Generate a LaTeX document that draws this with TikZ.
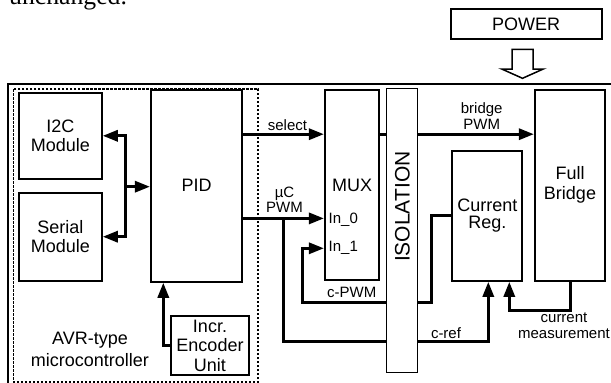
\documentclass[tikz,border=0pt]{standalone}
\usepackage{fontspec}
\setmainfont{Liberation Sans}
\newfontfamily\serifpaper{Liberation Serif}
\usetikzlibrary{arrows.meta}
\tikzset{
  blk/.style={draw, line width=2.2pt, inner sep=0pt, align=center,
    font=\fontsize{18}{19.5}\selectfont},
  conn/.style={line width=3pt},
  tip/.style={-{Triangle[length=15pt,width=11pt]}},
  lbl/.style={inner sep=0pt, align=center, font=\fontsize{15}{16}\selectfont},
}
\begin{document}
\begin{tikzpicture}[x=1pt,y=-1pt]
\useasboundingbox (0,0) rectangle (611,383);
% paper text fragment
\node[anchor=base west, inner sep=0pt, font=\serifpaper\fontsize{25.7}{28}\selectfont] (para) at (9,4) {unchanged.};
% outer frame
\draw[line width=2pt] (7.5,83.5) rectangle (640,420);
% microcontroller dotted region
\draw[line width=1.8pt, dash pattern=on 2.5pt off 1.5pt] (13.5,89) rectangle (258.3,381.7);
\node[lbl, font=\fontsize{18}{22}\selectfont] (avr) at (90,349) {AVR-type\\microcontroller};
% blocks
\node[blk, minimum width=82.7pt, minimum height=86.3pt] (i2c) at (60.3,135.8) {I2C\\Module};
\node[blk, minimum width=82.7pt, minimum height=88pt] (ser) at (60.3,236.7) {Serial\\Module};
\node[blk, minimum width=91.3pt, minimum height=191.7pt] (pid) at (196.7,185.8) {PID};
\node[blk, minimum width=78pt, minimum height=59pt] (enc) at (210,345.5) {Incr.\\Encoder\\Unit};
\node[blk, minimum width=54.3pt, minimum height=190pt] (mux) at (352.2,185) {MUX};
\node[lbl, anchor=west] (in0) at (328.5,219.3) {In\_0};
\node[lbl, anchor=west] (in1) at (328.5,248.3) {In\_1};
\node[blk, minimum width=70pt, minimum height=130pt, font=\fontsize{18}{17.5}\selectfont] (cr) at (487.3,215.7) {Current\\Reg.};
\node[blk, minimum width=70pt, minimum height=190.7pt, font=\fontsize{18}{20}\selectfont] (fb) at (570,185.3) {Full\\Bridge};
\node[blk, minimum width=151pt, minimum height=30pt] (pow) at (526.2,24.3) {POWER};
% coordinates
\coordinate (bus) at (125,186.7);
\coordinate (encx) at (163.3,345.5);
\coordinate (selY) at (0,134.2);
\coordinate (pwmY) at (0,218.4);
\coordinate (br) at (283.5,218.4);
\coordinate (crefx) at (488.3,341.7);
\coordinate (cp1) at (431.7,302.7);
\coordinate (cp2) at (302.7,248.3);
\coordinate (cm) at (509.3,310);
% connectors
\draw[conn, {Triangle[length=15pt,width=11pt]}-{Triangle[length=15pt,width=11pt]}] (i2c.east) -| (bus) |- (ser.east);
\draw[conn, tip] (bus) -- (bus -| pid.west);
\draw[conn, tip] (enc.west) -- (encx) -- (encx |- pid.south);
\draw[conn, tip] (pid.east |- selY) -- (mux.west |- selY);
\draw[conn, tip] (mux.east |- selY) -- (fb.west |- selY);
\draw[conn, tip] (pid.east |- pwmY) -- (mux.west |- pwmY);
\draw[conn, tip] (br) |- (crefx) -- (crefx |- cr.south);
\draw[conn, tip] (cr.west) -| (cp1) -| (cp2) -- (cp2 -| mux.west);
\draw[conn, tip] (fb.south) |- (cm) -- (cm |- cr.south);
% labels
\node[lbl] (lsel) at (287.5,125.5) {select};
\node[lbl] (lbpwm) at (481.7,116.3) {bridge\\PWM};
\node[lbl, font=\fontsize{15}{15.3}\selectfont] (lupwm) at (284.5,199.5) {µC\\PWM};
\node[lbl] (lcpwm) at (351.7,292.7) {c-PWM};
\node[lbl] (lcref) at (446,333.3) {c-ref};
\node[lbl] (lcm) at (564,325.3) {current\\measurement};
% isolation barrier
\node[draw, line width=1pt, fill=white, minimum width=30.6pt, minimum height=283.7pt, inner sep=0pt] (iso) at (402,230.2) {};
\node[rotate=90, inner sep=0pt, font=\fontsize{21}{24}\selectfont] (isot) at (402.5,206.7) {ISOLATION};
% power arrow
\draw[line width=1.5pt, line join=miter] (512,49.3) -- (533,49.3) -- (533,69) -- (543.3,69) -- (522.5,78.3) -- (501.7,69) -- (512,69) -- cycle;
\end{tikzpicture}
\end{document}
